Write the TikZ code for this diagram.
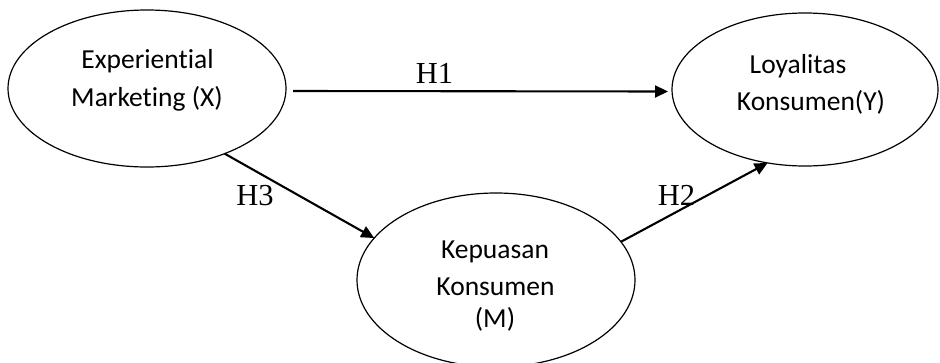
\documentclass[tikz,border=0pt]{standalone}
\usepackage{fontspec}
\setmainfont[Ligatures=NoCommon]{Carlito}
\newfontfamily\hfont{Liberation Serif}
\usetikzlibrary{shapes.geometric,arrows.meta,calc}
\tikzset{
  oval/.style={ellipse, draw, line width=1.2pt, inner sep=0pt, outer sep=0pt},
  txt/.style={anchor=base, inner sep=0pt, font=\fontsize{27.5}{33}\selectfont},
  hlab/.style={anchor=base, inner sep=0pt, font=\hfont\fontsize{30.5}{36}\selectfont},
  conn/.style={line width=2.1pt, -{Triangle[length=13pt,width=12pt]}}
}
\begin{document}
\begin{tikzpicture}[x=1pt,y=-1pt]
\useasboundingbox (0,0) rectangle (940,362);
\fill[white] (0,0) rectangle (940,362);
\begin{scope}
\clip (0,0) rectangle (940,362);
\node[oval, minimum width=278pt, minimum height=157pt] (x) at (147,88.5) {};
\node[oval, minimum width=266pt, minimum height=153pt] (y) at (805,89.5) {};
\node[oval, minimum width=278pt, minimum height=174pt] (m) at (496,280) {};
\end{scope}
% texts
\node[txt] (xt1) at (147.5,68) {Experiential};
\node[txt] (xt2) at (147,106) {Marketing (X)};
\node[txt] (yt1) at (798,73) {Loyalitas};
\node[txt] (yt2) at (811,110) {Konsumen(Y)};
\node[txt] (mt1) at (495,258) {Kepuasan};
\node[txt] (mt2) at (495.5,295) {Konsumen};
\node[txt] (mt3) at (495,327) {(M)};
% connectors
\draw[conn] ($(x.east)+(7,2.5)$) -- ($(y.west)+(-4,2)$);
\draw[conn] (x.-40) -- (m.161);
\draw[conn] (m.17) -- (y.-117);
% labels
\node[hlab] (h1) at (434.5,83) {H1};
\node[hlab] (h3) at (255,205) {H3};
\node[hlab] (h2) at (676.5,205) {H2};
\end{tikzpicture}
\end{document}
